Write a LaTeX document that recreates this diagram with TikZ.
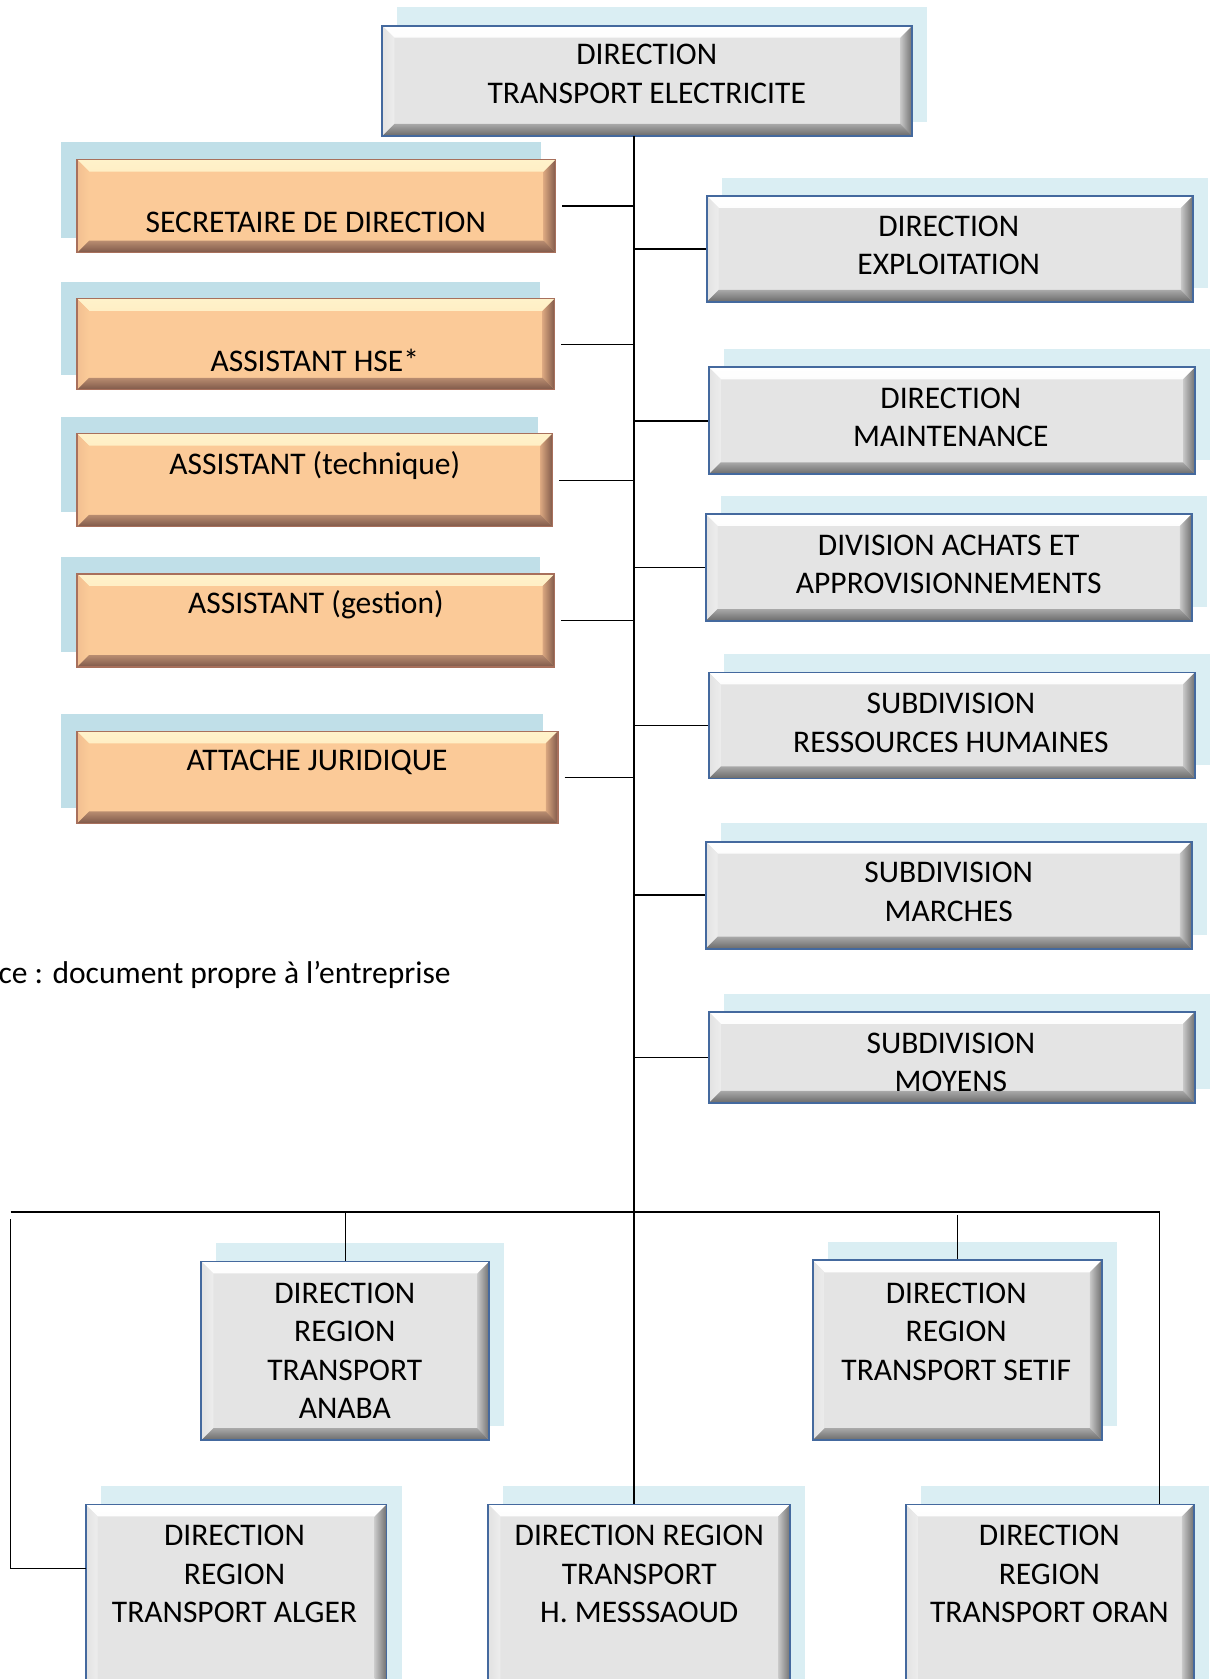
\documentclass[tikz,border=0pt]{standalone}
\usepackage{fontspec}
\setmainfont{Carlito}
\usetikzlibrary{fit,calc}
\definecolor{gfill}{HTML}{E4E4E4}
\definecolor{gline}{HTML}{44699E}
\definecolor{gshadc}{HTML}{DAEEF3}
\definecolor{ofill}{HTML}{FBCA98}
\definecolor{oline}{HTML}{A8705C}
\definecolor{oshadc}{HTML}{C0DFE8}
\definecolor{gt1}{HTML}{FFFFFF}\definecolor{gt2}{HTML}{EEEEEE}
\definecolor{gl1}{HTML}{E2E2E2}\definecolor{gl2}{HTML}{EDEDED}
\definecolor{gr1}{HTML}{C8C8C8}\definecolor{gr2}{HTML}{6F6F6F}
\definecolor{gb1}{HTML}{A8A8A8}\definecolor{gb2}{HTML}{6A6A6A}
\definecolor{ot1}{HTML}{FFF2CA}\definecolor{ot2}{HTML}{FCD8A6}
\definecolor{ol1}{HTML}{F2BF91}\definecolor{ol2}{HTML}{FBCB98}
\definecolor{or1}{HTML}{D9A67F}\definecolor{or2}{HTML}{80594A}
\definecolor{ob1}{HTML}{B88C70}\definecolor{ob2}{HTML}{7E5849}
\def\bvw{12pt}
\newcommand\boxfont{\fontsize{31.5}{38.5}\selectfont}
\tikzset{
  bevelshape/.style n args={8}{path picture={
    \shade[top color=#1, bottom color=#2] (path picture bounding box.north west) -- (path picture bounding box.north east) -- ([xshift=-\bvw,yshift=-\bvw]path picture bounding box.north east) -- ([xshift=\bvw,yshift=-\bvw]path picture bounding box.north west) -- cycle;
    \shade[left color=#3, right color=#4] (path picture bounding box.north west) -- ([xshift=\bvw,yshift=-\bvw]path picture bounding box.north west) -- ([xshift=\bvw,yshift=\bvw]path picture bounding box.south west) -- (path picture bounding box.south west) -- cycle;
    \shade[left color=#5, right color=#6] (path picture bounding box.north east) -- (path picture bounding box.south east) -- ([xshift=-\bvw,yshift=\bvw]path picture bounding box.south east) -- ([xshift=-\bvw,yshift=-\bvw]path picture bounding box.north east) -- cycle;
    \shade[top color=#7, bottom color=#8] (path picture bounding box.south west) -- ([xshift=\bvw,yshift=\bvw]path picture bounding box.south west) -- ([xshift=-\bvw,yshift=\bvw]path picture bounding box.south east) -- (path picture bounding box.south east) -- cycle;
  }},
  gbox/.style={draw=gline, line width=1.8pt, fill=gfill, inner sep=0pt,
    bevelshape={gt1}{gt2}{gl1}{gl2}{gr1}{gr2}{gb1}{gb2}},
  obox/.style={draw=oline, line width=1.3pt, fill=ofill, inner sep=0pt,
    bevelshape={ot1}{ot2}{ol1}{ol2}{or1}{or2}{ob1}{ob2}},
  gshad/.style={fill=gshadc},
  oshad/.style={fill=oshadc},
  txt/.style={font=\boxfont, align=center, inner sep=0pt, text=black},
  conn/.style={draw=black, line width=1.5pt},
}
\newcommand\gboxat[5]{\fill[gshad] ({#2+14},{#3-17}) rectangle ({#4+14},{#5-13});
  \node[gbox, fit={(#2,#3)(#4,#5)}] (#1) {};}
\newcommand\oboxat[5]{\fill[oshad] ({#2-15},{#3-16}) rectangle ({#4-14},{#5-14});
  \node[obox, fit={(#2,#3)(#4,#5)}] (#1) {};}
\begin{document}
\begin{tikzpicture}[x=1.0704pt, y=-1.0704pt]
\useasboundingbox (0,0) rectangle (1136,1568);
\clip (0,0) rectangle (1136,1568);
\fill[white] (0,0) rectangle (1136,1568);

% top
\gboxat{top}{357}{24}{852}{127}
\node[txt] (top-t) at (604,69) {DIRECTION\\TRANSPORT ELECTRICITE};
\coordinate (tr) at (592,127);

% left boxes
\oboxat{sec}{72}{149}{519}{236}
\node[txt] (sec-t) at (295,208) {SECRETAIRE DE DIRECTION};
\oboxat{hse}{72}{279}{518}{364}
\node[txt] (hse-t) at (294,337) {ASSISTANT HSE*};
\oboxat{tec}{72}{405}{516}{492}
\node[txt] (tec-t) at (294,435) {ASSISTANT (technique)};
\oboxat{ges}{72}{536}{518}{623}
\node[txt] (ges-t) at (295,565) {ASSISTANT (gestion)};
\oboxat{att}{72}{683}{521}{769}
\node[txt] (att-t) at (296,712) {ATTACHE JURIDIQUE};

% right boxes
\gboxat{exp}{660}{183}{1114}{282}
\node[txt] (exp-t) at (886,229) {DIRECTION\\EXPLOITATION};
\gboxat{mai}{662}{343}{1116}{443}
\node[txt] (mai-t) at (888,390) {DIRECTION\\MAINTENANCE};
\gboxat{ach}{659}{480}{1113}{580}
\node[txt] (ach-t) at (886,527) {DIVISION ACHATS ET\\APPROVISIONNEMENTS};
\gboxat{rh}{662}{628}{1116}{727}
\node[txt] (rh-t) at (888,675) {SUBDIVISION\\RESSOURCES HUMAINES};
\gboxat{mar}{659}{786}{1113}{886}
\node[txt] (mar-t) at (886,833) {SUBDIVISION\\MARCHES};
\gboxat{moy}{662}{945}{1116}{1030}
\node[txt] (moy-t) at (888,992) {SUBDIVISION\\MOYENS};

% source
\node[txt, anchor=east] (src) at (421,910) {ce : document propre à l’entreprise};

% regional boxes
\gboxat{ana}{188}{1178}{457}{1345}
\node[txt] (ana-t) at (322,1261.5) {DIRECTION\\REGION\\TRANSPORT\\ANABA};
\gboxat{set}{759}{1177}{1029}{1345}
\node[txt] (set-t) at (893,1243.5) {DIRECTION\\REGION\\TRANSPORT SETIF};
\gboxat{alg}{80}{1405}{361}{1640}
\node[txt] (alg-t) at (219,1470) {DIRECTION\\REGION\\TRANSPORT ALGER};
\gboxat{mes}{456}{1405}{738}{1640}
\node[txt] (mes-t) at (597,1470) {DIRECTION REGION\\TRANSPORT\\H. MESSSAOUD};
\gboxat{ora}{846}{1405}{1115}{1640}
\node[txt] (ora-t) at (980,1470) {DIRECTION\\REGION\\TRANSPORT ORAN};

% connectors
\draw[conn] (tr) -- (tr |- mes.north);
\foreach \b in {sec,hse,tec,ges,att}{
  \draw[conn] ([xshift=6pt]\b.east) -- (\b.east -| tr);
}
\foreach \b in {exp,mai,ach,rh,mar,moy}{
  \draw[conn] (\b.west -| tr) -- (\b.west);
}
\coordinate (busl) at (10,1132);
\coordinate (busr) at (1083,1132);
\coordinate (algin) at (80,1465);
\draw[conn] (busl) -- (busr);
\draw[conn] ([yshift=-7pt]busl) -- (busl |- algin) -- (algin);
\draw[conn] (busr) -- (busr |- ora.north);
\draw[conn] (ana.north |- busl) -- (ana.north);
\draw[conn] ([yshift=-3pt]set.north |- busl) -- (set.north);
\end{tikzpicture}
\end{document}
